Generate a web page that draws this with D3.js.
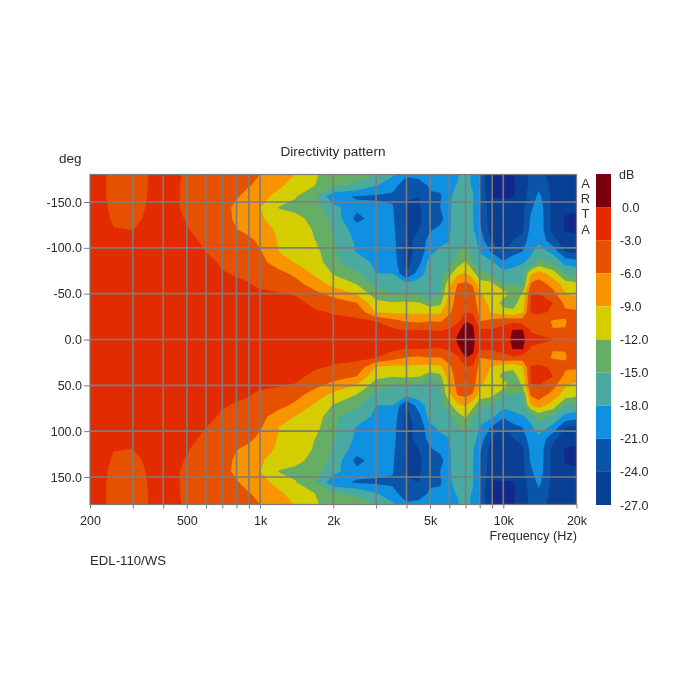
<!DOCTYPE html>
<html><head><meta charset="utf-8">
<style>html,body{margin:0;padding:0;background:#fff}svg{display:block;filter:blur(0.45px)}text{font-family:"Liberation Sans",Arial,sans-serif;fill:#2a2a2a}</style>
<script src="https://cdn.jsdelivr.net/npm/d3@7"></script></head><body>
<script>
const title = "Directivity pattern";
const model = "EDL-110/WS";
const frequencies = [200,250,300,400,500,600,700,800,900,1000,1200,1400,1700,2000,2500,3000,3500,4000,4500,5000,5500,6000,6500,7000,7500,8000,9000,10000,11000,12000,13000,14000,16000,18000,20000];
// half of the measured pattern: angle from the axis, top of the chart is -180, mirrored for +180
const halfAngles = [180,168,156,144,132,120,108,96,84,72,60,50,40,30,20,10,0];
const dbByFrequency = [
[-1.9,-1.9,-1.9,-1.8,-1.8,-1.7,-1.7,-1.6,-1.5,-1.5,-1.4,-1.4,-1.3,-1.3,-1.2,-1.1,-1],
[-3.5,-3.5,-3.5,-3.4,-3.2,-2.95,-2.7,-2.5,-2.3,-2.1,-1.9,-1.7,-1.5,-1.4,-1.2,-1.1,-1],
[-3.7,-3.7,-3.6,-3.5,-3.3,-3.02,-2.7,-2.5,-2.3,-2.1,-1.9,-1.7,-1.5,-1.4,-1.2,-1.1,-1],
[-2.3,-2.3,-2.3,-2.3,-2.3,-2.3,-2.2,-2.1,-2,-1.9,-1.7,-1.6,-1.5,-1.4,-1.2,-1.1,-1],
[-3.2,-3.3,-3.3,-3.3,-3.1,-2.9,-2.6,-2.3,-2.2,-2,-1.8,-1.7,-1.5,-1.4,-1.2,-1.1,-1],
[-3.8,-3.8,-3.9,-3.9,-3.8,-3.6,-3.3,-3.0,-2.6,-2.3,-2,-1.8,-1.6,-1.4,-1.2,-1.1,-1],
[-4.5,-4.6,-4.8,-5,-4.9,-4.5,-4,-3.5,-3.2,-2.9,-2.5,-2.2,-1.9,-1.6,-1.4,-1.2,-1],
[-5.2,-5.4,-5.8,-6.6,-6.5,-5.9,-5,-4.1,-3.5,-3.1,-2.8,-2.4,-2,-1.7,-1.4,-1.2,-1],
[-5.6,-5.9,-6.7,-7.8,-7.8,-6.8,-5.4,-4.4,-3.8,-3.3,-2.9,-2.5,-2,-1.7,-1.4,-1.2,-1],
[-6,-6.4,-8.2,-8.9,-8.6,-7.8,-6.6,-5.7,-4.9,-4.1,-3.3,-2.7,-2.2,-1.8,-1.5,-1.2,-1],
[-8,-8.6,-9.8,-12.2,-10.5,-9.5,-9.3,-9.1,-7.8,-5,-3.6,-2.9,-2.1,-1.8,-1.5,-1.3,-1.1],
[-9.1,-10,-11.8,-12.8,-11.2,-10.5,-10.2,-9.8,-9.1,-6.8,-4.7,-3.2,-2.3,-1.9,-1.6,-1.3,-1.1],
[-11.7,-12.1,-15,-14,-13,-12.4,-12.1,-11.2,-10.2,-9.6,-7.7,-5.3,-3.8,-2.7,-2,-1.7,-1.3],
[-13.5,-14.5,-20,-17,-15.8,-15.3,-14.8,-14.5,-14.5,-12.2,-9.7,-6.9,-4.9,-3.2,-2.5,-2,-1.5],
[-13.8,-15.5,-21.3,-20.2,-22,-19.5,-18.6,-18.2,-16.5,-14.5,-12,-9.3,-6,-3.8,-2.5,-2,-1.5],
[-14.9,-17.8,-21.5,-20.2,-19.6,-19.5,-19,-18.8,-18.6,-18,-15.7,-13.5,-11.2,-9.2,-3,-2.2,-1.6],
[-17.5,-19.8,-21.6,-20.7,-20.5,-20.3,-19.9,-19.5,-19,-18,-16.3,-14.8,-11.8,-9.7,-4.8,-2.4,-1.7],
[-20.5,-22.8,-23.5,-24.5,-24.5,-24.3,-24.5,-25,-25,-24,-16.8,-14.8,-11.5,-9.6,-6.2,-3,-2],
[-20,-22.5,-24,-24.5,-24.5,-24,-23.5,-23,-22,-19.5,-16.5,-15,-11.8,-9.7,-6.5,-2.9,-2],
[-19.5,-20.5,-21.5,-21.5,-22.5,-21.5,-19.5,-19,-16.5,-16.5,-16.8,-18.3,-13.5,-10,-6,-3,-2],
[-19,-20,-21.5,-21,-22.5,-20,-19,-17.2,-16.5,-16,-15.5,-14.8,-12.8,-9.5,-6.2,-3.1,-2],
[-19,-18.6,-18.2,-18.2,-18.3,-18.3,-18.1,-17,-15.8,-13,-9.7,-8.3,-7.3,-6.5,-4.8,-2.6,-1.8],
[-18.5,-17.8,-17.5,-17.3,-16.8,-16.5,-16,-15,-13.5,-9.5,-5.7,-5,-4.7,-4.5,-3.7,-0.4,0.5],
[-14.8,-17.5,-16.5,-16,-16,-16,-15.7,-14,-11.5,-8.8,-5.2,-3.1,-2.7,-3.1,0,1,1.5],
[-20,-18.2,-17.8,-17.9,-17.8,-17.6,-16.8,-16,-15,-11,-6.3,-4.8,-4.3,-3.6,-0.4,0.5,0.8],
[-21,-21.5,-21,-21,-21,-20.5,-19,-18.2,-17,-14,-10.5,-8.7,-7.7,-6.8,-6,-2.5,-2],
[-27.5,-27.6,-27.2,-26,-26,-25.5,-24.5,-21.5,-17.5,-15.4,-11,-10.2,-10,-9.4,-5,-2.6,-2],
[-27.6,-27.7,-27.2,-26,-27,-27.2,-25.5,-24,-20.5,-17,-15,-10.5,-13,-11,-3.8,-2.2,-1.5],
[-27.2,-27.4,-27.1,-25.7,-25.5,-25,-24,-22,-19,-16.8,-15,-13.5,-13,-11.5,-3.6,0.3,0.7],
[-25,-25.2,-25,-24.8,-24.6,-24.5,-23,-21,-18.3,-15.5,-15.5,-11.8,-10.6,-9.4,-4.5,0.3,0.8],
[-23.5,-23.3,-22.8,-21.5,-20.5,-20,-19,-18.5,-17,-9.5,-5.3,-3.1,-2.6,-2.5,-6,-3.3,-2.2],
[-23,-21.7,-20.2,-19.4,-19,-19,-18.8,-16.5,-14,-7.5,-4.5,-3,-2.5,-2.4,-4.5,-3.5,-2.5],
[-25,-25,-25,-24.8,-25,-25,-23,-19,-15.3,-10.5,-7,-5,-3,-3.4,-6.3,-5.9,-2.9],
[-25.5,-25.5,-26,-26.5,-27.2,-27.2,-26,-24,-19,-15,-10.5,-8.8,-6.8,-5.5,-6.2,-5.9,-3.1],
[-25.5,-25.8,-26.2,-26.8,-27.3,-27.3,-26.5,-25,-19.5,-15.8,-11,-9.8,-7.5,-5.5,-4.5,-4,-3.2]
];
const bandThresholds = [-27,-24,-21,-18,-15,-12,-9,-6,-3,0];
const bandColors = ["#0a3f96","#0a55aa","#0f90e0","#4aaaa0","#66ad66","#d4cd00","#f79400","#e65100","#e32b00","#7a0010"];
const belowColor = "#12288a";
const gridFrequencies = [300,400,500,600,700,800,900,1000,2000,3000,4000,5000,6000,7000,8000,9000,10000];
const freqTickLabels = [[200,"200"],[500,"500"],[1000,"1k"],[2000,"2k"],[5000,"5k"],[10000,"10k"],[20000,"20k"]];
const angleTicks = [-150,-100,-50,0,50,100,150];
const legendTicks = [0,-3,-6,-9,-12,-15,-18,-21,-24,-27];
const watermark = ["A","R","T","A"];

const L=90,R=576.5,T=174.5,B=504.5, GRID="#7c7c7c";
const svg=d3.select("body").append("svg").attr("width",700).attr("height",700);
const x=d3.scaleLog().domain([200,20000]).range([L,R]);
const y=d3.scaleLinear().domain([-180,180]).range([T,B]);
const fmt=v=>v.toFixed(1);

// full grid: rows top to bottom
const angles=[...halfAngles.map(a=>-a),...halfAngles.slice(0,-1).reverse()];
const rowIndex=[...halfAngles.keys(),...[...halfAngles.keys()].slice(0,-1).reverse()];
const nx=frequencies.length, ny=angles.length;
const flat=[];
for(let j=0;j<ny;j++) for(let i=0;i<nx;i++) flat.push(dbByFrequency[i][rowIndex[j]]);
const ix=d3.scaleLinear().domain(d3.range(nx)).range(frequencies.map(f=>x(f))).clamp(true);
const iy=d3.scaleLinear().domain(d3.range(ny)).range(angles.map(a=>y(a))).clamp(true);
const geo=d3.geoPath(d3.geoTransform({point(px,py){this.stream.point(ix(px-0.5),iy(py-0.5));}}));
const contours=d3.contours().size([nx,ny]).thresholds(bandThresholds)(flat);

svg.append("rect").attr("x",L).attr("y",T).attr("width",R-L).attr("height",B-T).attr("fill",belowColor);
svg.append("g").selectAll("path").data(contours).join("path")
  .attr("d",geo).attr("fill",(d,i)=>bandColors[i]);

// grid
const grid=svg.append("g").attr("stroke",GRID).attr("stroke-width",1.6).attr("fill","none");
grid.selectAll(".v").data(gridFrequencies).join("line").attr("x1",d=>x(d)).attr("x2",d=>x(d)).attr("y1",T).attr("y2",B);
grid.selectAll(".h").data(angleTicks).join("line").attr("x1",L).attr("x2",R).attr("y1",d=>y(d)).attr("y2",d=>y(d));
svg.append("rect").attr("x",L).attr("y",T).attr("width",R-L).attr("height",B-T).attr("fill","none").attr("stroke",GRID).attr("stroke-width",1.2);

// axes
const xAxis=d3.axisBottom(x).tickValues([200,...gridFrequencies,20000]).tickSize(4).tickPadding(8)
  .tickFormat(d=>{const m=freqTickLabels.find(t=>t[0]===d);return m?m[1]:"";});
const gx=svg.append("g").attr("transform",`translate(0,${B})`).call(xAxis);
const yAxis=d3.axisLeft(y).tickValues(angleTicks).tickSize(6).tickPadding(2).tickFormat(fmt);
const gy=svg.append("g").attr("transform",`translate(${L},0)`).call(yAxis);
[gx,gy].forEach(g=>{g.select(".domain").remove();g.selectAll("line").attr("stroke",GRID);g.selectAll("text").style("font-size","12.5px").attr("fill","#2a2a2a");});

svg.append("text").attr("x",333).attr("y",156).attr("text-anchor","middle").style("font-size","13.6px").text(title);
svg.append("text").attr("x",59).attr("y",163).style("font-size","13.5px").text("deg");
svg.append("text").attr("x",577).attr("y",540).attr("text-anchor","end").style("font-size","12.7px").text("Frequency (Hz)");
svg.append("text").attr("x",90).attr("y",565).style("font-size","13.2px").text(model);
svg.append("g").selectAll("text").data(watermark).join("text").attr("x",585.5).attr("y",(d,i)=>188+i*15.2)
  .attr("text-anchor","middle").style("font-size","13px").style("fill","#333").text(d=>d);

// colour legend
const ly=d3.scaleLinear().domain([3,-27]).range([174,505]);
const legendBands=[...bandThresholds].reverse();
svg.append("g").selectAll("rect").data(legendBands).join("rect")
  .attr("x",596).attr("width",15).attr("y",d=>ly(d+3)).attr("height",d=>ly(d)-ly(d+3))
  .attr("fill",d=>bandColors[bandThresholds.indexOf(d)]);
svg.append("g").selectAll("text").data(legendTicks).join("text").attr("x",d=>d===0?622:620).attr("y",d=>ly(d)+4.5)
  .style("font-size","12.5px").text(fmt);
svg.append("text").attr("x",619).attr("y",178.5).style("font-size","12.5px").text("dB");
</script></body></html>
